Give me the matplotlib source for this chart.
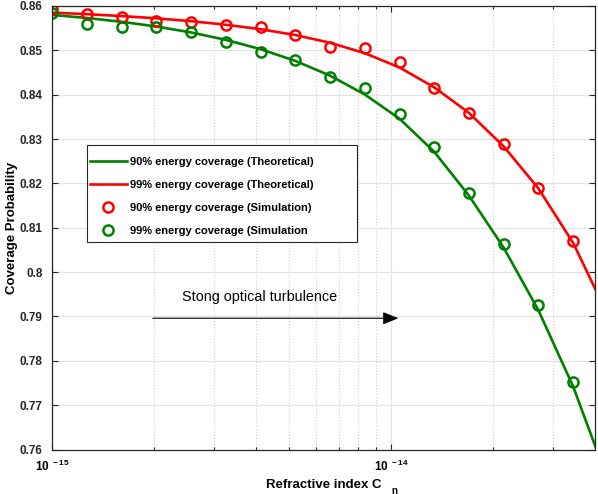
import matplotlib.pyplot as plt
from matplotlib.patches import Rectangle
from matplotlib.ticker import NullFormatter, LogLocator

plt.rcParams['font.family'] = ['Liberation Sans', 'DejaVu Sans']
plt.rcParams['mathtext.fontset'] = 'custom'
plt.rcParams['mathtext.rm'] = 'Liberation Sans'
plt.rcParams['mathtext.bf'] = 'Liberation Sans:bold'

# refractive index structure parameter (x axis)
cn = [1.0e-15, 1.266e-15, 1.603e-15, 2.029e-15, 2.569e-15, 3.252e-15,
      4.117e-15, 5.212e-15, 6.599e-15, 8.354e-15, 1.058e-14, 1.339e-14,
      1.695e-14, 2.146e-14, 2.717e-14, 3.440e-14]
cn_theory = cn + [4.0e-14]

# theoretical curves
theory_90 = [0.85797, 0.85728, 0.85642, 0.85535, 0.85402, 0.85235, 0.85025,
             0.84761, 0.84428, 0.84004, 0.83457, 0.82712, 0.81725, 0.80552,
             0.79141, 0.77423, 0.76073]
theory_99 = [0.85849, 0.85814, 0.85771, 0.85720, 0.85656, 0.85576, 0.85475,
             0.85344, 0.85170, 0.84935, 0.84612, 0.84165, 0.83590, 0.82834,
             0.81886, 0.80660, 0.79617]

# simulation points
sim_red = [0.8593, 0.8582, 0.8574, 0.8567, 0.8563, 0.8556, 0.8553, 0.8534,
           0.8507, 0.8506, 0.8474, 0.8416, 0.8358, 0.8288, 0.8190, 0.8069]
sim_green = [0.8584, 0.8559, 0.8553, 0.8552, 0.8541, 0.8518, 0.8497, 0.8478,
             0.8440, 0.8415, 0.8356, 0.8283, 0.8179, 0.8063, 0.7925, 0.7752]

yticks = [0.76, 0.77, 0.78, 0.79, 0.80, 0.81, 0.82, 0.83, 0.84, 0.85, 0.86]
xticks = [1e-15, 1e-14]
xticklabels = [r'$\mathbf{10^{\ -15}}$', r'$\mathbf{10^{\ -14}}$']

green = '#008000'
red = '#ff0000'

fig = plt.figure(figsize=(5.98, 4.94), dpi=100)
ax = fig.add_axes([0.0875, 0.090, 0.908, 0.898])

ax.plot(cn_theory, theory_90, color=green, lw=1.9, solid_joinstyle='round',
        label='90% energy coverage (Theoretical)')
ax.plot(cn_theory, theory_99, color=red, lw=1.9, solid_joinstyle='round',
        label='99% energy coverage (Theoretical)')
ax.plot(cn, sim_red, 'o', mfc='none', mec=red, ms=7.3, mew=1.8,
        label='90% energy coverage (Simulation)')
ax.plot(cn, sim_green, 'o', mfc='none', mec=green, ms=7.3, mew=1.8,
        label='99% energy coverage (Simulation')

ax.set_xscale('log')
ax.set_xlim(1e-15, 4e-14)
ax.set_ylim(0.76, 0.86)
ax.set_yticks(yticks)
ax.set_yticklabels(['%g' % v for v in yticks])
ax.set_xticks(xticks)
ax.set_xticklabels(xticklabels)
ax.xaxis.set_minor_locator(LogLocator(base=10, subs=range(2, 10)))
ax.xaxis.set_minor_formatter(NullFormatter())

ax.grid(True, which='major', color='#e3e3e3', lw=0.9, ls='-')
ax.grid(True, which='minor', axis='x', color='#c8c8c8', lw=0.7, ls=(0, (1, 2)))
ax.set_axisbelow(True)

for s in ax.spines.values():
    s.set_color('#262626')
    s.set_linewidth(0.9)
ax.tick_params(which='both', direction='in', top=True, right=True,
               color='#262626', width=0.8)
ax.tick_params(which='major', length=4)
ax.tick_params(which='minor', length=2.5)
ax.tick_params(axis='y', pad=7, labelsize=8.5)
ax.tick_params(axis='x', pad=6.5, labelsize=8.5)
for lab in ax.get_yticklabels():
    lab.set_fontweight('bold')
    lab.set_color('#262626')

ax.set_xlabel('Refractive index C', fontsize=9.5, fontweight='bold', labelpad=3.5)
ax.set_ylabel('Coverage Probability', fontsize=9.5, fontweight='bold', labelpad=0.8)
fig.text(394 / 598, 1 - 490.5 / 494, 'n', fontsize=7, fontweight='bold',
         ha='center', va='center')

# legend: frame drawn separately (wide box as in the original)
frame = Rectangle((0.0645, 0.4686), 0.4961, 0.2180, transform=ax.transAxes,
                  facecolor='white', edgecolor='#262626', lw=0.8, zorder=4)
ax.add_patch(frame)
leg = ax.legend(loc='upper left', bbox_to_anchor=(0.0694, 0.6604),
                borderaxespad=0, frameon=False, borderpad=0,
                prop={'family': 'Liberation Sans', 'weight': 'bold', 'size': 8},
                handlelength=3.3, handletextpad=0.3, labelspacing=1.18)
leg.set_zorder(5)

ax.annotate('', xy=(1.05e-14, 0.7896), xytext=(1.98e-15, 0.7896),
            arrowprops=dict(arrowstyle='-|>,head_length=0.95,head_width=0.38',
                            color='black', lw=0.8, mutation_scale=10,
                            shrinkA=0, shrinkB=0))
ax.text(2.41e-15, 0.7944, 'Stong optical turbulence', fontsize=10.4,
        ha='left', va='center')

fig.savefig('out.png', dpi=100)
